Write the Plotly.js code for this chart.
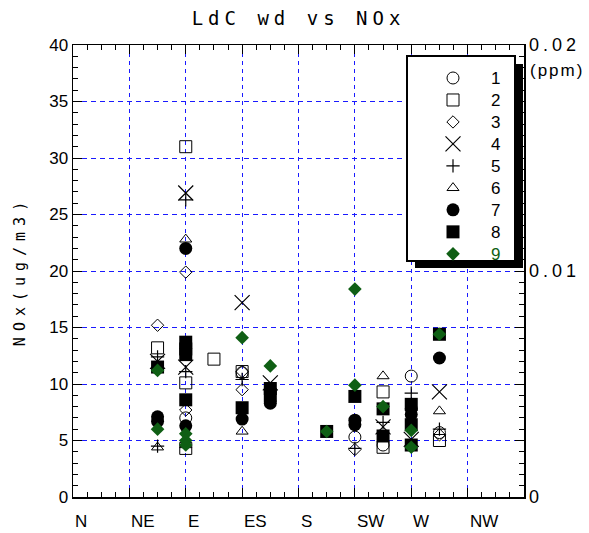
<!DOCTYPE html>
<html>
<head>
<meta charset="utf-8">
<script src="https://cdn.plot.ly/plotly-3.0.1.min.js"></script>
<style>
  html, body { margin: 0; padding: 0; background: #fff; }
  #chart { width: 589px; height: 533px; }
  .gtitle { letter-spacing: 5px; }
  .ytitle { letter-spacing: 6px; }
  .y2tick text { letter-spacing: 4px; }
  .annotation[data-index="8"] .annotation-text { letter-spacing: 2px; }
</style>
</head>
<body>
<div id="chart"></div>
<script>
// Wind direction labels (x positions 0..7)
const dirLabels = ['N', 'NE', 'E', 'ES', 'S', 'SW', 'W', 'NW'];
const dirPos = [0, 1, 2, 3, 4, 5, 6, 7];

// Series names
const seriesNames = ['1', '2', '3', '4', '5', '6', '7', '8', '9'];

// Series values (x = direction position, y = NOx ug/m3)
const s1x = [2, 3, 5, 5.5, 6, 6.5];
const s1y = [7.0, 11.0, 5.3, 4.6, 10.7, 5.7];

const s2x = [1.5, 2, 2, 2, 2.5, 3, 5.5, 5.5, 6.5];
const s2y = [13.2, 31.0, 10.1, 4.3, 12.2, 11.1, 9.3, 4.4, 5.0];

const s3x = [1.5, 2, 2, 3, 3, 5, 6.5];
const s3y = [15.2, 19.9, 7.7, 11.1, 9.5, 4.2, 5.5];

const s4x = [1.5, 2, 2, 3, 3.5, 5.5, 6, 6.5];
const s4y = [12.0, 26.9, 11.5, 17.2, 10.1, 6.2, 5.1, 9.3];

const s5x = [1.5, 1.5, 2, 2, 3, 5, 5.5, 6, 6.5];
const s5y = [12.4, 4.5, 26.3, 11.1, 10.4, 4.3, 6.6, 9.2, 6.0];

const s6x = [1.5, 2, 2, 3, 5.5, 6.5];
const s6y = [4.4, 22.8, 4.6, 5.8, 10.7, 7.6];

const s7x = [1.5, 1.5, 2, 2, 3, 3.5, 5, 5, 6, 6, 6.5];
const s7y = [7.1, 6.7, 22.0, 6.3, 6.9, 8.3, 6.8, 6.4, 7.8, 7.3, 12.3];

const s8x = [1.5, 2, 2, 2, 2, 3, 3.5, 3.5, 4.5, 5, 5.5, 5.5, 6, 6, 6, 6.5];
const s8y = [11.5, 13.7, 13.1, 12.6, 8.6, 7.9, 9.6, 9.0, 5.8, 8.9, 7.8, 5.4, 8.2, 6.4, 4.6, 14.4];

const s9x = [1.5, 1.5, 2, 2, 2, 3, 3.5, 4.5, 5, 5, 5.5, 6, 6, 6.5];
const s9y = [11.2, 6.0, 5.6, 5.0, 4.6, 14.1, 11.6, 5.8, 18.4, 9.9, 8.0, 5.9, 4.4, 14.4];

// Right axis tick labels (ppm)
const ppmVals = [0, 0.01, 0.02];
const ppmText = ['0', '0.01', '0.02'];

const GREEN = '#0f5f14';
const xs = [s1x, s2x, s3x, s4x, s5x, s6x, s7x, s8x, s9x];
const ys = [s1y, s2y, s3y, s4y, s5y, s6y, s7y, s8y, s9y];
const markerStyles = [
  {symbol: 'circle-open', size: 12, color: '#000', line: {color: '#000', width: 1}},
  {symbol: 'square-open', size: 12, color: '#000', line: {color: '#000', width: 1}},
  {symbol: 'diamond-open', size: 9.5, color: '#000', line: {color: '#000', width: 1}},
  {symbol: 'x-thin-open', size: 15, color: '#000', line: {color: '#000', width: 1.2}},
  {symbol: 'cross-thin-open', size: 9.5, color: '#000', line: {color: '#000', width: 1.2}},
  {symbol: 'triangle-up-open', size: 10.5, color: '#000', line: {color: '#000', width: 1}},
  {symbol: 'circle', size: 13, color: '#000', line: {width: 0}},
  {symbol: 'square', size: 13, color: '#000', line: {width: 0}},
  {symbol: 'diamond', size: 10.5, color: GREEN, line: {width: 0}}
];

const traces = seriesNames.map((n, i) => ({
  type: 'scatter',
  mode: 'markers',
  x: xs[i],
  y: ys[i],
  name: '<span style="font-size:17px' + (i === 8 ? ';color:' + GREEN : '') + '">' + n + '</span>',
  marker: markerStyles[i],
  xaxis: 'x',
  yaxis: 'y'
}));

// invisible trace to activate right axis
traces.push({
  type: 'scatter', mode: 'markers', x: [0], y: [0], yaxis: 'y2',
  marker: {opacity: 0}, showlegend: false, hoverinfo: 'skip'
});

// plot area geometry in px (for legend box shapes)
const L = 73, R = 65, T = 45, B = 36, W = 589, H = 533;
const pw = W - L - R, ph = H - T - B;
const px2x = p => (p - L) / pw;
const py2y = p => (H - B - p) / ph;

const layout = {
  width: W, height: H,
  margin: {l: L, r: R, t: T, b: B},
  paper_bgcolor: '#fff',
  plot_bgcolor: '#fff',
  showlegend: true,
  title: {
    text: 'LdC wd vs NOx',
    font: {family: 'DejaVu Sans Mono', size: 19, color: '#000'},
    x: 0.5, xref: 'paper', y: 1 - 18 / H, yref: 'container', yanchor: 'middle'
  },
  xaxis: {
    range: [0, 8],
    tickvals: dirPos,
    ticktext: dirPos.map(() => ''),
    ticks: 'inside', ticklen: 9, tickwidth: 1, tickcolor: '#000',
    minor: {dtick: 0.25, ticks: 'inside', ticklen: 5, tickcolor: '#000', showgrid: false},
    showline: true, linecolor: '#000', linewidth: 1.5, mirror: 'ticks',
    showgrid: true, gridcolor: '#1a1aff', griddash: '4px,4px', gridwidth: 1,
    zeroline: false
  },
  yaxis: {
    range: [0, 40],
    dtick: 5, tick0: 0,
    ticks: 'inside', ticklen: 9, tickwidth: 1, tickcolor: '#000',
    minor: {dtick: 1, ticks: 'inside', ticklen: 5, tickcolor: '#000', showgrid: false},
    showline: true, linecolor: '#000', linewidth: 1.5, mirror: 'ticks',
    showgrid: true, gridcolor: '#1a1aff', griddash: '5px,4px', gridwidth: 1,
    zeroline: false,
    tickfont: {family: 'Liberation Sans', size: 17, color: '#000'},
    title: {text: 'NOx(ug/m3)', font: {family: 'DejaVu Sans Mono', size: 15, color: '#000'}, standoff: 20}
  },
  yaxis2: {
    range: [0, 0.02],
    overlaying: 'y', side: 'right',
    tickvals: ppmVals, ticktext: ppmText,
    ticks: 'inside', ticklen: 9, tickcolor: '#000',
    ticklabelstandoff: 4,
    showgrid: false, zeroline: false, showline: false,
    tickfont: {family: 'Liberation Sans', size: 18, color: '#000'}
  },
  legend: {
    x: px2x(415), xanchor: 'left', xref: 'paper',
    y: py2y(62), yanchor: 'top', yref: 'paper',
    bgcolor: 'rgba(0,0,0,0)', borderwidth: 0,
    itemwidth: 66,
    font: {family: 'Liberation Sans', size: 14.6, color: '#000'},
    tracegroupgap: 0
  },
  shapes: [
    {type: 'rect', xref: 'paper', yref: 'paper', layer: 'above',
     x0: px2x(415), x1: px2x(523), y0: py2y(64), y1: py2y(268),
     fillcolor: '#000', line: {width: 0}},
    {type: 'rect', xref: 'paper', yref: 'paper', layer: 'above',
     x0: px2x(407), x1: px2x(515), y0: py2y(56), y1: py2y(261),
     fillcolor: '#fff', line: {color: '#000', width: 2}}
  ],
  annotations: dirLabels.map((t, i) => ({
    x: dirPos[i], xref: 'x', xanchor: 'left',
    y: -24 / ph, yref: 'paper', yanchor: 'middle',
    text: t, showarrow: false,
    font: {family: 'Liberation Sans Narrow, Liberation Sans', size: 17, color: '#000'}
  })).concat([{
    x: 1, xref: 'paper', xanchor: 'left', xshift: 9,
    y: py2y(70), yref: 'paper', yanchor: 'middle',
    text: '(ppm)', showarrow: false,
    font: {family: 'Liberation Sans', size: 17, color: '#000'}
  }])
};

Plotly.newPlot('chart', traces, layout, {displayModeBar: false, staticPlot: true});
</script>
</body>
</html>
